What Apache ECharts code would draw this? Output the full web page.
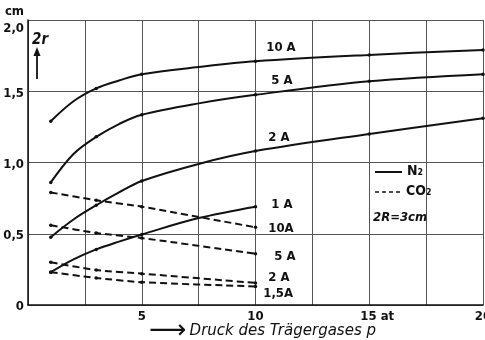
<!DOCTYPE html>
<html><head><meta charset="utf-8">
<script src="https://cdn.jsdelivr.net/npm/echarts@6/dist/echarts.min.js"></script>
<style>html,body{margin:0;padding:0;background:#fff}#c{width:485px;height:340px}</style>
</head><body><div id="c"></div>
<script>
const measuredP = [1, 3, 5, 10, 15, 20];
const pN2 = [1, 2, 3, 4, 5, 7.5, 10, 15, 20];
const n2_10A = [1.29, 1.43, 1.52, 1.575, 1.62, 1.67, 1.71, 1.755, 1.79];
const n2_5A = [0.86, 1.06, 1.18, 1.27, 1.335, 1.415, 1.475, 1.57, 1.62];
const n2_2A = [0.476, 0.60, 0.70, 0.79, 0.87, 0.99, 1.08, 1.2, 1.31];
const p1A = [1, 2, 3, 4, 5, 7.5, 10];
const n2_1A = [0.23, 0.32, 0.39, 0.445, 0.495, 0.61, 0.69];
const pCO2 = [1, 3, 5, 10];
const co2_10A = [0.79, 0.735, 0.69, 0.545];
const co2_5A = [0.56, 0.505, 0.47, 0.36];
const co2_2A = [0.30, 0.245, 0.22, 0.155];
const co2_15A = [0.23, 0.19, 0.16, 0.13];
const xTickValues = [5, 10, 15, 20];
const xTickTexts = ['5', '10', '15 at', '20'];
const yTickValues = [0, 0.5, 1, 1.5, 2];
const yTickTexts = ['0', '0,5', '1,0', '1,5', '2,0'];
const curveLabels = ['10 A', '5 A', '2 A', '1 A', '10A', '5 A', '2 A', '1,5A'];
const legendTexts = ['N₂', 'CO₂', '2R=3cm'];

// ---- chart ----
const FONT = '"DejaVu Sans Condensed","DejaVu Sans",sans-serif';
const INK = '#111';
function mk(xs, ys, dashed, label, off) {
  const labX = 10;
  const data = xs.map((x, i) => {
    const item = { value: [x, ys[i]] };
    if (measuredP.indexOf(x) < 0) item.symbolSize = 0;
    if (x === labX) item.label = { show: true, formatter: label, position: 'right', distance: 0, offset: off,
      color: INK, fontFamily: FONT, fontWeight: 'bold', fontSize: 13 };
    return item;
  });
  return {
    type: 'line', data, smooth: dashed ? 0.2 : 0.35,
    symbol: 'circle', symbolSize: 3.5, showSymbol: true,
    itemStyle: { color: INK },
    lineStyle: { color: INK, width: 2, type: dashed ? [7, 4] : 'solid' },
    emphasis: { disabled: true }, silent: true, z: 3
  };
}
const series = [
  mk(pN2, n2_10A, false, curveLabels[0], [9, -14]),
  mk(pN2, n2_5A, false, curveLabels[1], [14, -14]),
  mk(pN2, n2_2A, false, curveLabels[2], [11, -13]),
  mk(p1A, n2_1A, false, curveLabels[3], [14, -2]),
  mk(pCO2, co2_10A, true, curveLabels[4], [11, 1]),
  mk(pCO2, co2_5A, true, curveLabels[5], [17, 3]),
  mk(pCO2, co2_2A, true, curveLabels[6], [11, -5]),
  mk(pCO2, co2_15A, true, curveLabels[7], [6, 7])
];

const chart = echarts.init(document.getElementById('c'), null, { renderer: 'canvas' });
chart.setOption({
  animation: false,
  backgroundColor: '#fff',
  grid: { left: 28, right: 2, top: 20, bottom: 35, containLabel: false, outerBoundsMode: 'none' },
  xAxis: {
    type: 'value', min: 0, max: 20, interval: 2.5,
    axisLine: { lineStyle: { color: INK, width: 1.5 } },
    axisTick: { show: false },
    splitLine: { lineStyle: { color: '#555', width: 1 } },
    axisLabel: {
      margin: 5, color: INK, fontFamily: FONT, fontWeight: 'bold', fontSize: 13,
      hideOverlap: false,
      formatter: v => {
        const i = xTickValues.indexOf(v);
        if (i < 0) return '';
        return v === 15 ? '{s|}' + xTickTexts[i] : xTickTexts[i];
      },
      rich: { s: { width: 16 } }
    },
    name: '{ar|⟶} {t|Druck des Trägergases p}',
    nameLocation: 'middle', nameGap: 18, nameMoveOverlap: false,
    nameTextStyle: { color: INK, padding: [0, 0, 0, 14],
      rich: {
        ar: { fontSize: 26, color: INK, fontFamily: '"DejaVu Sans",sans-serif', lineHeight: 16 },
        t: { fontSize: 15, color: INK, fontFamily: '"DejaVu Sans",sans-serif', fontStyle: 'italic', lineHeight: 16 }
      } }
  },
  yAxis: {
    type: 'value', min: 0, max: 2, interval: 0.5,
    axisLine: { show: true, lineStyle: { color: INK, width: 1.5 } },
    axisTick: { show: false },
    splitLine: { lineStyle: { color: '#555', width: 1 } },
    name: 'cm', nameLocation: 'end', nameGap: 8, nameMoveOverlap: false,
    nameTextStyle: { color: INK, fontFamily: FONT, fontWeight: 'bold', fontSize: 13, align: 'right', verticalAlign: 'middle', padding: [0, 4, 0, 0] },
    axisLabel: {
      margin: 4, color: INK, fontFamily: FONT, fontWeight: 'bold', fontSize: 13,
      formatter: v => {
        const i = yTickValues.indexOf(v);
        if (i < 0) return '';
        return v === 2 ? '{d|' + yTickTexts[i] + '}' : '{n|' + yTickTexts[i] + '}';
      },
      rich: { d: { padding: [18, 0, 0, 0] }, n: { padding: [4, 0, 0, 0] } }
    }
  },
  graphic: [
    { type: 'line', shape: { x1: 375, y1: 172, x2: 402, y2: 172 }, style: { stroke: INK, lineWidth: 2 } },
    { type: 'text', left: 407, top: 164, style: { text: legendTexts[0], fill: INK, font: 'bold 14px ' + FONT } },
    { type: 'line', shape: { x1: 375, y1: 192, x2: 402, y2: 192 }, style: { stroke: INK, lineWidth: 1.6, lineDash: [4, 3] } },
    { type: 'text', left: 406, top: 184, style: { text: legendTexts[1], fill: INK, font: 'bold 14px ' + FONT } },
    { type: 'text', left: 373, top: 211, style: { text: legendTexts[2], fill: INK, font: 'italic bold 13px ' + FONT } },
    { type: 'text', left: 32, top: 33, style: { text: '2r', fill: INK, font: 'italic bold 15px ' + FONT } },
    { type: 'line', shape: { x1: 37, y1: 79, x2: 37, y2: 54 }, style: { stroke: INK, lineWidth: 1.8 } },
    { type: 'polygon', shape: { points: [[37, 47], [33.5, 56], [40.5, 56]] }, style: { fill: INK } }
  ],
  series
});
</script></body></html>
